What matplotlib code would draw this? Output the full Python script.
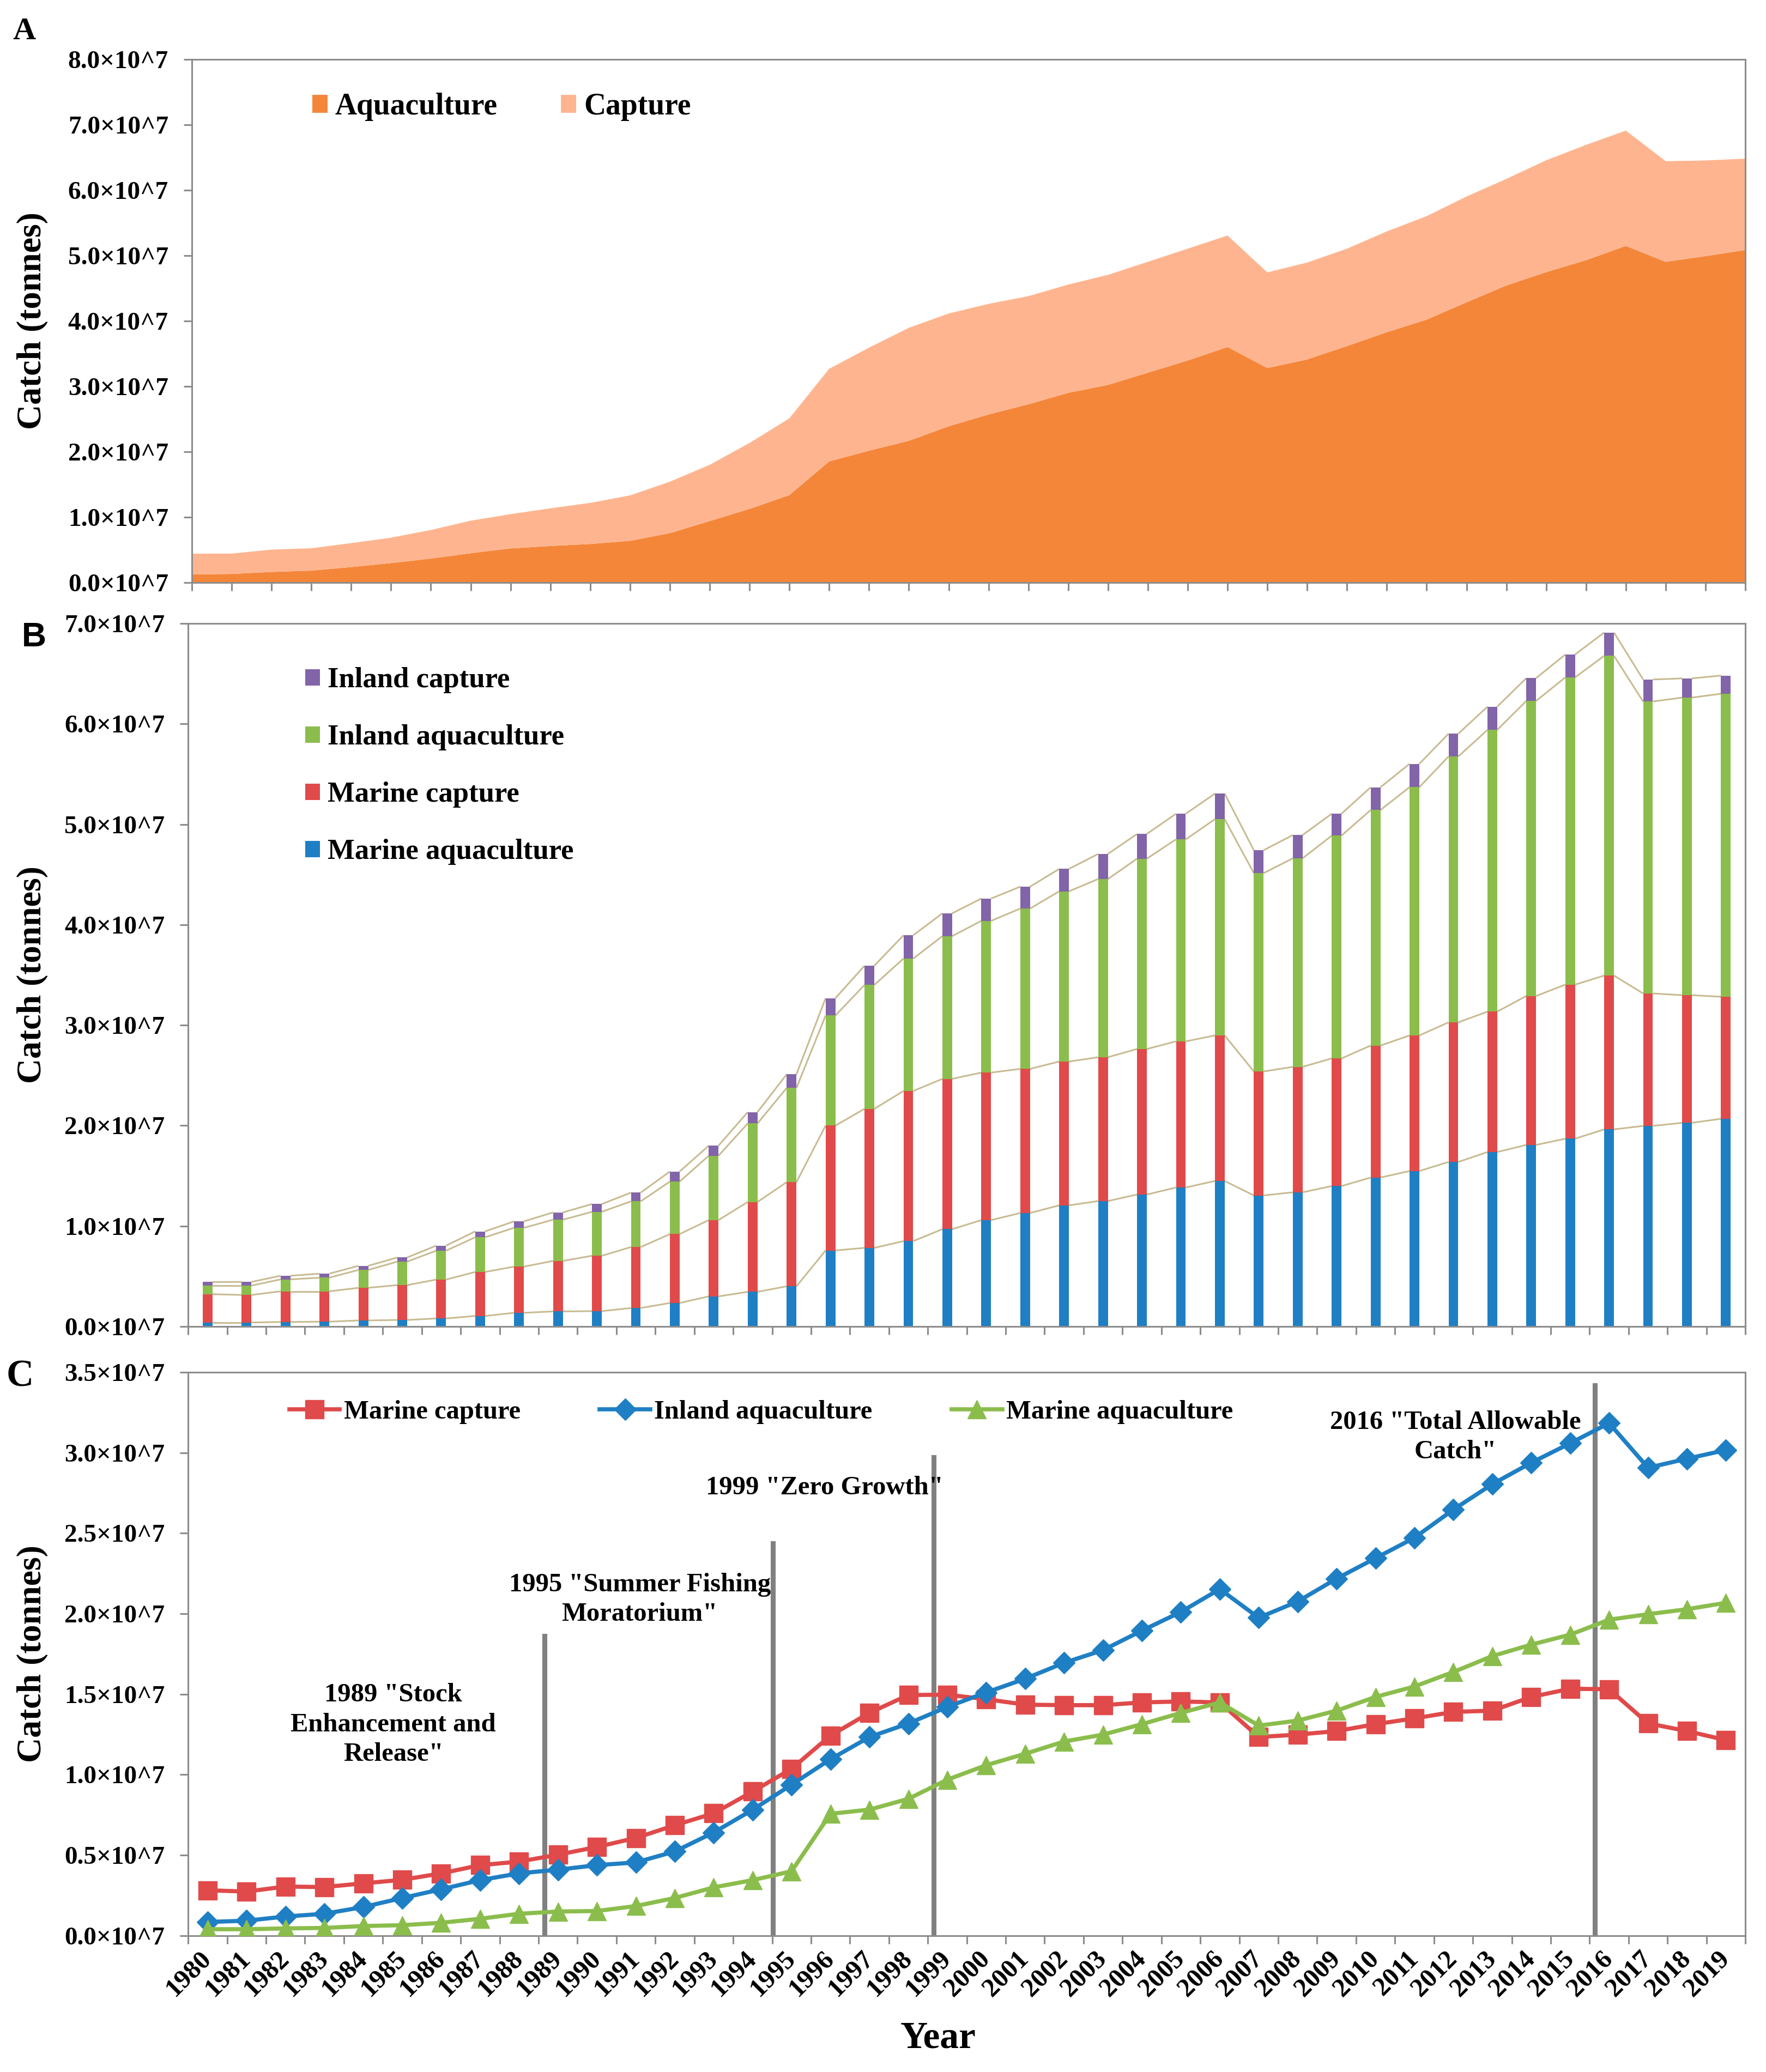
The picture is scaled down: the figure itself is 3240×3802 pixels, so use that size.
import numpy as np
import matplotlib
matplotlib.use('Agg')
import matplotlib.pyplot as plt
from matplotlib.ticker import FuncFormatter
from matplotlib.collections import LineCollection

# catch data, units of 10^7 tonnes
years = list(range(1980, 2020))
marine_capture = [0.282, 0.274, 0.305, 0.302, 0.325, 0.347, 0.387, 0.438, 0.460, 0.503,
                  0.551, 0.607, 0.686, 0.760, 0.895, 1.037, 1.243, 1.384, 1.495, 1.497,
                  1.469, 1.435, 1.432, 1.432, 1.449, 1.455, 1.449, 1.234, 1.249, 1.271,
                  1.314, 1.350, 1.390, 1.398, 1.483, 1.534, 1.531, 1.319, 1.271, 1.215]
inland_aquaculture = [0.085, 0.093, 0.119, 0.136, 0.178, 0.234, 0.288, 0.345, 0.387, 0.410,
                      0.438, 0.455, 0.523, 0.641, 0.782, 0.938, 1.096, 1.234, 1.318, 1.421,
                      1.511, 1.596, 1.695, 1.774, 1.895, 2.011, 2.153, 1.975, 2.076, 2.218,
                      2.345, 2.472, 2.647, 2.805, 2.938, 3.059, 3.184, 2.907, 2.963, 3.017]
marine_aquaculture = [0.040, 0.040, 0.045, 0.048, 0.060, 0.065, 0.080, 0.105, 0.136, 0.150,
                      0.153, 0.184, 0.234, 0.300, 0.345, 0.400, 0.757, 0.783, 0.850, 0.969,
                      1.059, 1.130, 1.206, 1.249, 1.314, 1.384, 1.449, 1.305, 1.336, 1.398,
                      1.483, 1.548, 1.638, 1.737, 1.808, 1.870, 1.963, 1.997, 2.028, 2.068]
inland_capture = [0.036, 0.037, 0.036, 0.040, 0.041, 0.041, 0.050, 0.059, 0.064, 0.073,
                  0.077, 0.087, 0.100, 0.100, 0.113, 0.136, 0.173, 0.191, 0.232, 0.227,
                  0.222, 0.218, 0.223, 0.250, 0.246, 0.255, 0.255, 0.228, 0.232, 0.218,
                  0.227, 0.232, 0.227, 0.231, 0.227, 0.228, 0.232, 0.219, 0.191, 0.181]

# policy events for panel C: (x position in category units, line top, label, label x, label y)
events = [(8.65, 1.861, '1989 "Stock\nEnhancement and\nRelease"', 4.77, 1.311),
          (14.52, 2.436, '1995 "Summer Fishing\nMoratorium"', 11.1, 2.088),
          (18.65, 2.973, '1999 "Zero Growth"', 15.85, 2.784),
          (35.63, 3.420, '2016 "Total Allowable\nCatch"', 32.05, 3.098)]

SCALE = 1e7
GREY = '#8c8c8c'
BLUE = '#1f7fc4'
RED = '#e04a4a'
GREEN = '#8bbd4c'
PURPLE = '#8264a8'
TAN = '#c8bb92'
ORANGE = '#f4863a'
PEACH = '#feb58f'

plt.rcParams['font.family'] = ['Liberation Serif', 'DejaVu Serif']
plt.rcParams['font.weight'] = 'bold'

mc = np.array(marine_capture) * SCALE
ia = np.array(inland_aquaculture) * SCALE
ma = np.array(marine_aquaculture) * SCALE
ic = np.array(inland_capture) * SCALE
x = np.arange(len(years))

fig = plt.figure(figsize=(32.41, 38.02), dpi=100)
R = 0.988
axA = fig.add_axes([0.1086, 0.7188, R - 0.1086, 0.9714 - 0.7188])
axB = fig.add_axes([0.1065, 0.3598, R - 0.1065, 0.6991 - 0.3598])
axC = fig.add_axes([0.1065, 0.0658, R - 0.1065, 0.3377 - 0.0658])

fmt = FuncFormatter(lambda v, p: f"{v / SCALE:.1f}×10^7")


def style(ax):
    for s in ax.spines.values():
        s.set_color(GREY)
        s.set_linewidth(2.2)
    ax.tick_params(axis='both', which='major', direction='out', length=11, width=2.2,
                   color=GREY, labelsize=34)
    ax.tick_params(axis='y', pad=20)
    ax.yaxis.set_major_formatter(fmt)


# ---- panel A: stacked areas
axA.stackplot(x, ma + ia, mc + ic, colors=[ORANGE, PEACH],
              labels=['Aquaculture', 'Capture'], linewidth=0)
axA.set_xlim(0, len(years) - 1)
axA.set_ylim(0, 8e7)
axA.set_yticks(np.arange(0, 8.01e7, 1e7))
axA.set_xticks(x)
axA.set_xticklabels([])
style(axA)
axA.legend(loc='center left', bbox_to_anchor=(0.0775, 0.909), ncol=2, frameon=False,
           fontsize=40, borderpad=0, borderaxespad=0, handlelength=0.5, handleheight=0.55,
           handletextpad=0.25, columnspacing=2.1)

# ---- panel B: stacked bars with series lines
w = 0.25
base = np.zeros(len(years))
layers = [(ma, 'Marine aquaculture', BLUE), (mc, 'Marine capture', RED),
          (ia, 'Inland aquaculture', GREEN), (ic, 'Inland capture', PURPLE)]
for vals, lab, col in layers:
    axB.bar(x, vals, w, bottom=base, color=col, label=lab, linewidth=0, zorder=2)
    base = base + vals
    segs = [[(x[i] + w / 2, base[i]), (x[i + 1] - w / 2, base[i + 1])] for i in range(len(x) - 1)]
    axB.add_collection(LineCollection(segs, colors=TAN, linewidths=2.2, zorder=1))
axB.set_xlim(-0.5, len(years) - 0.5)
axB.set_ylim(0, 7e7)
axB.set_yticks(np.arange(0, 7.01e7, 1e7))
axB.set_xticks(np.arange(-0.5, len(years), 1))
axB.set_xticklabels([])
style(axB)
h, l = axB.get_legend_handles_labels()
axB.legend(h[::-1], l[::-1], loc='center left', bbox_to_anchor=(0.0753, 0.797),
           frameon=False, fontsize=38, borderpad=0, borderaxespad=0, labelspacing=1.08,
           handlelength=0.5, handleheight=0.5, handletextpad=0.27)

# ---- panel C: lines with markers and policy events
axC.plot(x, mc, color=RED, lw=5.5, marker='s', ms=24, label='Marine capture', zorder=3)
axC.plot(x, ia, color=BLUE, lw=5.5, marker='D', ms=20, label='Inland aquaculture', zorder=3)
axC.plot(x, ma, color=GREEN, lw=5.5, marker='^', ms=25, label='Marine aquaculture', zorder=3)
for ex, top, txt, tx, ty in events:
    axC.plot([ex, ex], [0, top * SCALE], color='#808080', lw=6.5, zorder=2)
    axC.text(tx, ty * SCALE, txt, ha='center', va='center', multialignment='center',
             fontsize=35, linespacing=1.3, zorder=4)
axC.set_xlim(-0.5, len(years) - 0.5)
axC.set_ylim(0, 3.5e7)
axC.set_yticks(np.arange(0, 3.51e7, 0.5e7))
axC.set_xticks(np.arange(-0.5, len(years), 1))
axC.set_xticklabels([])
axC.set_xticks(x, minor=True)
axC.set_xticklabels([str(y) for y in years], minor=True, rotation=45, ha='right',
                    va='center', rotation_mode='anchor')
style(axC)
axC.tick_params(axis='x', which='minor', length=0, labelsize=35, pad=26)
axC.legend(loc='center left', bbox_to_anchor=(0.065, 0.929), ncol=3, frameon=False,
           fontsize=35, borderpad=0, borderaxespad=0, handlelength=1.9,
           handletextpad=0.15, columnspacing=3.0)

# ---- shared texts
for ax in (axA, axB, axC):
    b = ax.get_position()
    fig.text(0.0182, (b.y0 + b.y1) / 2, 'Catch (tonnes)', rotation=90, ha='center',
             va='center', fontsize=46)
fig.text(0.531, 0.0163, 'Year', ha='center', va='center', fontsize=50)
fig.text(0.0136, 0.9847, 'A', ha='center', va='center', fontsize=42)
fig.text(0.0191, 0.6923, 'B', ha='center', va='center', fontsize=45,
         family=['Liberation Sans', 'DejaVu Sans'])
fig.text(0.0114, 0.3354, 'C', ha='center', va='center', fontsize=50)

fig.savefig('out.png', dpi=100)
